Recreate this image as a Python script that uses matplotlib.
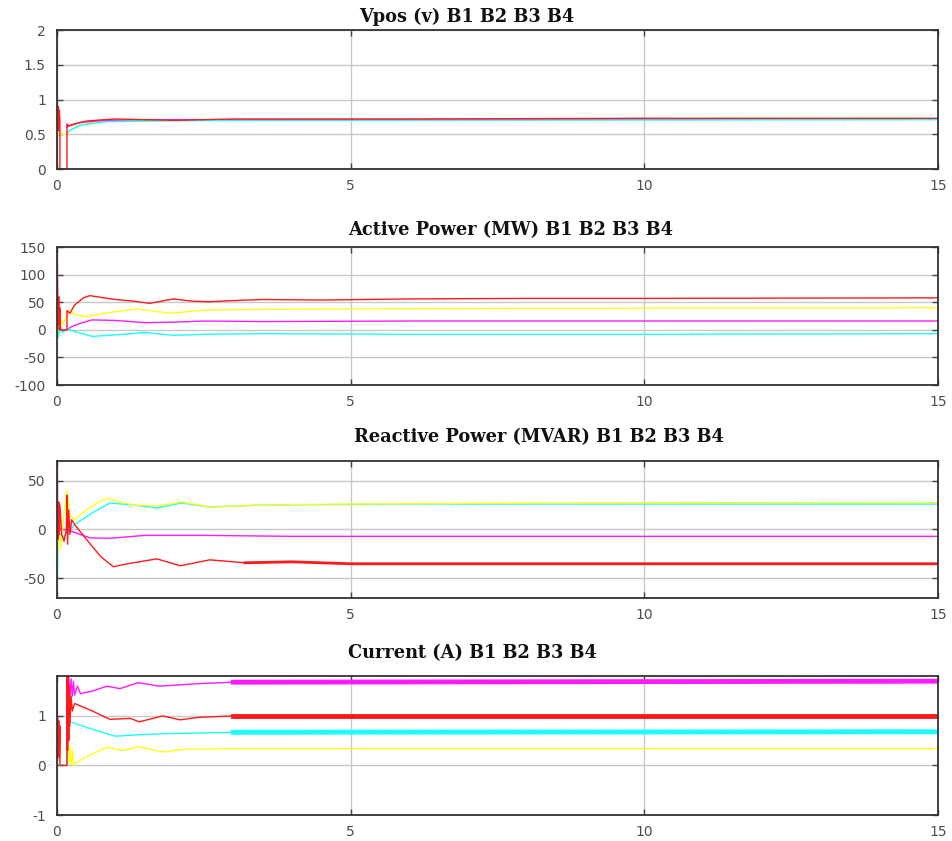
import matplotlib.pyplot as plt
import matplotlib.transforms as mtransforms

# time axis limits
t_max = 15

# ---- Vpos (v)
vpos_t_red = [0, 0.0, 0.01, 0.02, 0.03, 0.04, 0.05, 0.05, 0.17, 0.17, 0.2, 0.3, 0.5, 0.8, 1.0, 1.5, 2.0, 2.5, 3.0, 4.0, 6.0, 10, 15]
vpos_red = [0, 1.72, 0.6, 0.9, 0.55, 0.85, 0.7, 0, 0, 0.65, 0.62, 0.65, 0.69, 0.71, 0.72, 0.71, 0.70, 0.71, 0.72, 0.72, 0.72, 0.73, 0.73]
vpos_t_yel = [0, 0.1, 0.17, 0.2, 0.3, 0.6, 1.0, 2.0, 5, 15]
vpos_yel = [0.5, 0.5, 0.5, 0.55, 0.6, 0.68, 0.7, 0.7, 0.71, 0.72]
vpos_t_cya = [0.17, 0.2, 0.4, 0.8, 1.5, 3.0, 15]
vpos_cya = [0.5, 0.55, 0.63, 0.68, 0.69, 0.7, 0.71]
vpos_t_mag = [0.17, 0.2, 0.4, 0.8, 1.5, 3.0, 15]
vpos_mag = [0.6, 0.62, 0.67, 0.7, 0.71, 0.71, 0.72]

# ---- Active Power (MW)
p_t_red = [0, 0.005, 0.01, 0.02, 0.03, 0.04, 0.05, 0.06, 0.17, 0.17, 0.22, 0.3, 0.45, 0.56, 0.8, 1.0, 1.3, 1.58, 1.98, 2.3, 2.6, 3.0, 3.5, 4.5, 6, 8, 10, 15]
p_red = [0, 150, 80, 10, 60, 0, 40, 0, 0, 35, 30, 45, 58, 62, 58, 55, 52, 48, 56, 52, 51, 53, 55, 54, 56, 57, 57, 58]
p_t_yel = [0, 0.02, 0.04, 0.06, 0.1, 0.17, 0.2, 0.3, 0.5, 0.8, 1.36, 1.92, 2.55, 3.5, 5, 8, 15]
p_yel = [-45, 40, -10, 20, 10, 28, 35, 28, 24, 30, 38, 30, 36, 37, 38, 39, 40]
p_t_mag = [0.05, 0.17, 0.25, 0.4, 0.6, 1.0, 1.5, 2.0, 2.5, 3.5, 6, 15]
p_mag = [0, 0, 6, 12, 18, 17, 13, 14, 16, 15, 16, 16]
p_t_cya = [0, 0.02, 0.05, 0.1, 0.17, 0.3, 0.6, 1.0, 1.5, 2.0, 2.5, 3.5, 6, 10, 15]
p_cya = [5, -15, 8, -5, 2, -3, -12, -9, -5, -10, -8, -7, -8, -8, -7]

# ---- Reactive Power (MVAR)
q_t_yel = [0, 0.03, 0.06, 0.1, 0.17, 0.22, 0.3, 0.5, 0.7, 0.87, 1.0, 1.3, 1.7, 2.12, 2.6, 3.5, 5, 8, 15]
q_yel = [-45, 10, -20, 5, 40, 15, 10, 20, 28, 32, 29, 25, 24, 28, 23, 25, 26, 27, 27.5]
q_t_cya = [0, 0.02, 0.05, 0.1, 0.2, 0.3, 0.6, 0.9, 1.3, 1.7, 2.12, 2.6, 3.5, 6, 15]
q_cya = [-70, -10, -5, -8, -2, 5, 17, 27, 25, 22, 27, 23, 25, 26, 26]
q_t_mag = [0.05, 0.17, 0.3, 0.56, 0.9, 1.5, 2.5, 4, 8, 15]
q_mag = [0, 0, -3, -8.5, -9, -6, -6, -7, -7, -7]
q_t_red = [0, 0.005, 0.01, 0.02, 0.03, 0.04, 0.05, 0.08, 0.12, 0.16, 0.17, 0.18, 0.2, 0.22, 0.25, 0.3, 0.5, 0.75, 0.96, 1.2, 1.7, 2.1, 2.6, 3.2, 4.0, 5.0, 8, 15]
q_red = [0, 70, 30, -10, 28, -5, 25, -5, -12, 0, 35, -15, 20, -5, 10, 5, -10, -28, -38, -35, -30, -37, -31, -34, -33, -35, -35, -35]

# ---- Current (A)
i_t_red = [0, 0, 0.005, 0.01, 0.02, 0.03, 0.04, 0.05, 0.05, 0.17, 0.17, 0.18, 0.19, 0.2, 0.21, 0.22, 0.24, 0.26, 0.3, 0.6, 0.9, 1.25, 1.4, 1.8, 2.1, 2.4, 3.0, 15]
i_red = [0, 2.5, 0.1, 1.0, 0.2, 0.9, 0.15, 0.8, 0, 0, 2.5, 0.3, 1.8, 0.5, 1.6, 0.8, 1.4, 1.1, 1.25, 1.1, 0.93, 0.95, 0.88, 1.0, 0.92, 0.97, 1.0, 1.0]
i_t_mag = [0.17, 0.19, 0.2, 0.22, 0.24, 0.26, 0.28, 0.3, 0.35, 0.4, 0.6, 0.85, 1.07, 1.38, 1.75, 2.4, 3.0, 15]
i_mag = [1.8, 1.3, 1.8, 1.35, 1.75, 1.4, 1.7, 1.42, 1.6, 1.45, 1.5, 1.6, 1.55, 1.67, 1.6, 1.65, 1.68, 1.7]
i_t_cya = [0, 0.02, 0.17, 0.2, 0.3, 0.55, 0.99, 1.4, 1.85, 3.0, 15]
i_cya = [0.05, 0.02, 0.0, 0.9, 0.85, 0.75, 0.59, 0.62, 0.64, 0.67, 0.68]
i_t_yel = [0, 0.01, 0.03, 0.05, 0.17, 0.19, 0.2, 0.22, 0.24, 0.26, 0.28, 0.31, 0.55, 0.85, 1.1, 1.4, 1.8, 2.2, 3, 15]
i_yel = [0.85, 0.5, 0.8, 0.0, 0.0, 0.45, 0.05, 0.4, 0.02, 0.3, 0.0, 0.05, 0.2, 0.37, 0.3, 0.38, 0.27, 0.33, 0.34, 0.34]

titles = ['Vpos (v) B1 B2 B3 B4', 'Active Power (MW) B1 B2 B3 B4',
          'Reactive Power (MVAR) B1 B2 B3 B4', 'Current (A) B1 B2 B3 B4']
ylims = [(0, 2), (-100, 150), (-70, 70), (-1, 1.8)]
yticks = [[0, 0.5, 1, 1.5, 2], [-100, -50, 0, 50, 100, 150], [-50, 0, 50], [-1, 0, 1]]
ytick_labels = [['0', '0.5', '1', '1.5', '2'], ['-100', '-50', '0', '50', '100', '150'],
                ['-50', '0', '50'], ['-1', '0', '1']]
xticks = [0, 5, 10, 15]

RED, YEL, MAG, CYA = '#ff1a1a', '#ffff1a', '#ff1aff', '#1affff'

series = [
    [(vpos_t_yel, vpos_yel, YEL), (vpos_t_mag, vpos_mag, MAG), (vpos_t_cya, vpos_cya, CYA), (vpos_t_red, vpos_red, RED)],
    [(p_t_yel, p_yel, YEL), (p_t_mag, p_mag, MAG), (p_t_cya, p_cya, CYA), (p_t_red, p_red, RED)],
    [(q_t_mag, q_mag, MAG), (q_t_cya, q_cya, CYA), (q_t_yel, q_yel, YEL), (q_t_red, q_red, RED)],
    [(i_t_yel, i_yel, YEL), (i_t_cya, i_cya, CYA), (i_t_mag, i_mag, MAG), (i_t_red, i_red, RED)],
]
# noisy thick bands after t = 3 s
thick = [[], [], [(q_t_red, q_red, RED, 2.0)],
         [(i_t_mag, i_mag, MAG, 3.5), (i_t_red, i_red, RED, 3.5), (i_t_cya, i_cya, CYA, 3.5)]]

fig = plt.figure(figsize=(9.53, 8.41), dpi=100)
boxes = [[0.0598, 0.799, 0.9245, 0.1653],
         [0.0598, 0.5422, 0.9245, 0.164],
         [0.0598, 0.2889, 0.9245, 0.163],
         [0.0598, 0.0309, 0.9245, 0.165]]
# title: left edge near t=5, height above axes (axes fraction)
title_x = [5.15, 4.95, 5.05, 4.95]
title_y = [1.094, 1.123, 1.175, 1.165]

for k in range(4):
    ax = fig.add_axes(boxes[k])
    for t, v, c in series[k]:
        ax.plot(t, v, color=c, lw=1.0)
    for t, v, c, w in thick[k]:
        tt = [a for a in t if a >= 3]
        vv = [b for a, b in zip(t, v) if a >= 3]
        ax.plot(tt, vv, color=c, lw=w)
    ax.set_xlim(0, t_max)
    ax.set_ylim(*ylims[k])
    ax.set_xticks(xticks)
    ax.set_xticklabels([str(x) for x in xticks])
    ax.set_yticks(yticks[k])
    ax.set_yticklabels(ytick_labels[k])
    ax.grid(True, color='#c8c8c8', lw=1.0)
    ax.set_axisbelow(True)
    ax.tick_params(direction='in', length=4, width=1, colors='#444444',
                   labelcolor='#4d4d4d', labelsize=10, top=True, right=True)
    ax.tick_params(axis='x', pad=7)
    ax.tick_params(axis='y', pad=8)
    for s in ax.spines.values():
        s.set_color('#333333')
        s.set_linewidth(1.3)
    trans = mtransforms.blended_transform_factory(ax.transData, ax.transAxes)
    ax.text(title_x[k], title_y[k], titles[k], transform=trans, ha='left', va='center',
            fontsize=12.8, fontweight='bold', family=['DejaVu Serif'], color='#111111')

fig.savefig('out.png', dpi=100)
